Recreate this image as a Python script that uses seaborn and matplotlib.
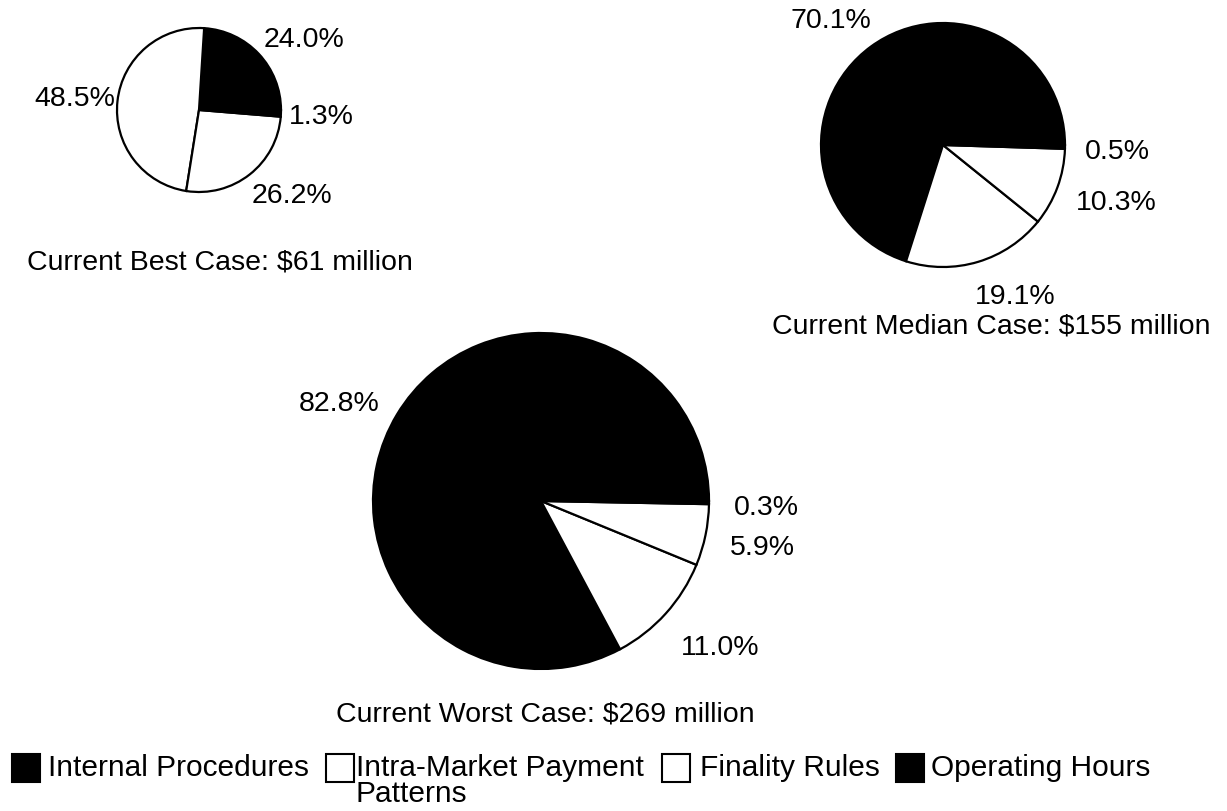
import matplotlib
matplotlib.use('Agg')
import matplotlib.pyplot as plt
import seaborn as sns
from matplotlib.patches import Rectangle

# data
categories = ['Internal Procedures', 'Intra-Market Payment\nPatterns', 'Finality Rules', 'Operating Hours']
best_case = [24.0, 48.5, 26.2, 1.3]
median_case = [70.1, 19.1, 10.3, 0.5]
worst_case = [82.8, 11.0, 5.9, 0.3]
case_titles = ['Current Best Case: $61 million',
               'Current Median Case: $155 million',
               'Current Worst Case: $269 million']

sns.set_theme(style='white')
plt.rcParams['font.family'] = ['Liberation Sans', 'DejaVu Sans']
plt.rcParams['text.color'] = 'black'
colors = sns.color_palette(['black', 'white', 'white', 'black'])

W, H = 1227, 812
fig = plt.figure(figsize=(W / 100, H / 100), dpi=100)
ax = fig.add_axes([0, 0, 1, 1])


def py(y):
    # pixel row (top = 0) -> data y
    return H - y


# layout: pie centre / radius, title centre, label centres (pixels, top-left origin)
layout = [
    dict(center=(199, 111), r=82, title=(220, 263),
         labels=[(304, 40), (75, 99), (292, 196), (321, 117)]),
    dict(center=(943, 146), r=122, title=(991, 327),
         labels=[(831, 21), (1015, 297), (1116, 203), (1117, 152)]),
    dict(center=(541, 502), r=168, title=(545, 715),
         labels=[(339, 404), (720, 648), (762, 548), (766, 508)]),
]

for values, title, lay in zip([best_case, median_case, worst_case], case_titles, layout):
    cx, cy = lay['center']
    ax.pie(values, colors=colors, startangle=0, counterclock=True,
           center=(cx, py(cy)), radius=lay['r'], frame=True,
           wedgeprops=dict(edgecolor='black', linewidth=1.6))
    for v, (lx, ly) in zip(values, lay['labels']):
        ax.text(lx, py(ly), f'{v:.1f}%', ha='center', va='center', fontsize=20.5)
    tx, ty = lay['title']
    ax.text(tx, py(ty), title, ha='center', va='center', fontsize=20.5)

# legend drawn by hand along the bottom
box_x = [12, 326, 662, 896]
text_x = [48, 356, 700, 931]
for cat, col, bx, tx in zip(categories, colors, box_x, text_x):
    ax.add_patch(Rectangle((bx, py(783)), 28, 28, facecolor=col,
                           edgecolor='black', linewidth=1.5))
    ax.text(tx, py(754), cat, ha='left', va='top', fontsize=21.5,
            linespacing=0.92)

ax.set_xlim(0, W)
ax.set_ylim(0, H)
ax.set_aspect('equal')
ax.axis('off')

fig.savefig('out.png', dpi=100)
